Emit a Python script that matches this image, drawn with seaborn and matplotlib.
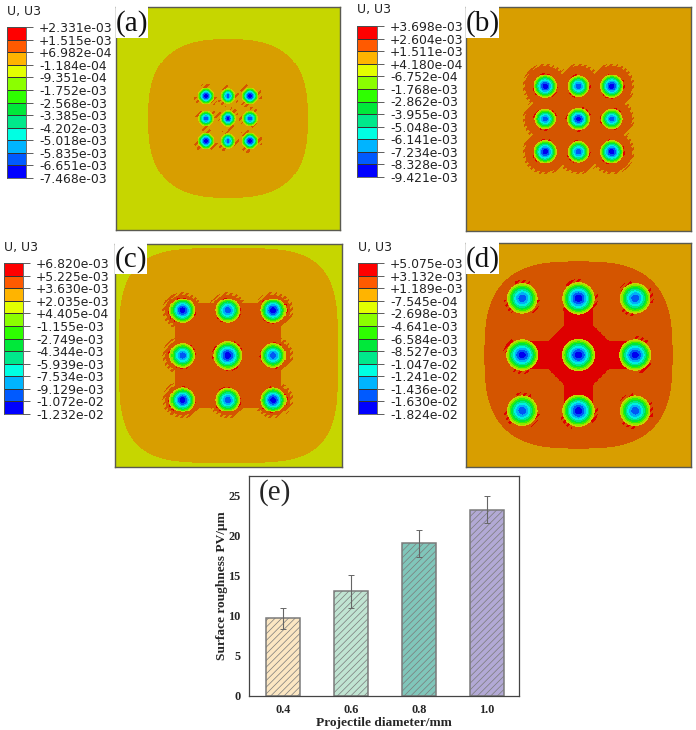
"""
plot.py

Four U3 displacement contour maps (a-d) plus the surface roughness bars (e).
"""

import numpy as np
import pandas as pd
import matplotlib.pyplot as plt
import seaborn as sns
from matplotlib.colors import ListedColormap
from matplotlib.patches import Rectangle

W, H = 696, 730
GRID = 225

# legend cells, top to bottom, and the slightly darker lit version used in the maps
LEGEND_COLORS = ["#FF0000", "#FF5A00", "#FFB400", "#E3FF00", "#8BFF00", "#2EFF00",
                 "#00E83A", "#00E88B", "#00FFE3", "#00B4FF", "#005AFF", "#0000FF"]
FIELD_COLORS = ["#DE0000", "#D45500", "#D89E00", "#C6D600", "#8CE800", "#35F000",
                "#00E43C", "#00E68C", "#00F0E0", "#00B0F5", "#0058F5", "#0000F0"]

LABELS_A = ["+2.331e-03", "+1.515e-03", "+6.982e-04", "-1.184e-04", "-9.351e-04",
            "-1.752e-03", "-2.568e-03", "-3.385e-03", "-4.202e-03", "-5.018e-03",
            "-5.835e-03", "-6.651e-03", "-7.468e-03"]
LABELS_B = ["+3.698e-03", "+2.604e-03", "+1.511e-03", "+4.180e-04", "-6.752e-04",
            "-1.768e-03", "-2.862e-03", "-3.955e-03", "-5.048e-03", "-6.141e-03",
            "-7.234e-03", "-8.328e-03", "-9.421e-03"]
LABELS_C = ["+6.820e-03", "+5.225e-03", "+3.630e-03", "+2.035e-03", "+4.405e-04",
            "-1.155e-03", "-2.749e-03", "-4.344e-03", "-5.939e-03", "-7.534e-03",
            "-9.129e-03", "-1.072e-02", "-1.232e-02"]
LABELS_D = ["+5.075e-03", "+3.132e-03", "+1.189e-03", "-7.545e-04", "-2.698e-03",
            "-4.641e-03", "-6.584e-03", "-8.527e-03", "-1.047e-02", "-1.241e-02",
            "-1.436e-02", "-1.630e-02", "-1.824e-02"]

# pit centres (fraction of the square), radii and deepest band, row by row
PITS_X_A = [0.40, 0.50, 0.60]
PITS_Y_A = [0.40, 0.50, 0.60]
PIT_R_A = [0.037, 0.035, 0.037, 0.035, 0.037, 0.035, 0.037, 0.035, 0.037]
PIT_CORE_A = [11, 10, 11, 10, 11, 10, 11, 10, 11]

PITS_X_B = [0.352, 0.50, 0.648]
PITS_Y_B = [0.352, 0.50, 0.648]
PIT_R_B = [0.052, 0.048, 0.052, 0.048, 0.052, 0.048, 0.052, 0.048, 0.052]
PIT_CORE_B = [11, 10, 11, 10, 11, 10, 11, 10, 11]

PITS_X_C = [0.296, 0.497, 0.698]
PITS_Y_C = [0.299, 0.50, 0.698]
PIT_R_C = [0.056, 0.055, 0.056, 0.055, 0.064, 0.055, 0.056, 0.055, 0.056]
PIT_CORE_C = [11, 10, 11, 10, 11, 10, 11, 10, 11]

PITS_X_D = [0.25, 0.50, 0.752]
PITS_Y_D = [0.246, 0.50, 0.75]
PIT_R_D = [0.068, 0.072, 0.068, 0.072, 0.074, 0.072, 0.068, 0.072, 0.068]
PIT_CORE_D = [10, 11, 10, 11, 11, 11, 10, 11, 10]

# panel e
DIAMETERS = ["0.4", "0.6", "0.8", "1.0"]
ROUGHNESS = [9.7, 13.1, 19.1, 23.3]
ROUGHNESS_ERR = [1.3, 2.05, 1.7, 1.65]
BAR_COLORS = ["#FBE6C2", "#C0E4D2", "#80C6BA", "#B2A9D5"]


def px_axes(fig, left, top, right, bottom):
    return fig.add_axes([left / W, 1 - bottom / H, (right - left) / W, (bottom - top) / H])


def grid():
    c = (np.arange(GRID) + 0.5) / GRID
    return np.meshgrid(c, c)


def squircle(X, Y, half, p):
    return np.abs((X - 0.5) / half) ** p + np.abs((Y - 0.5) / half) ** p < 1


def near_pits(X, Y, xs, ys, r):
    mask = np.zeros_like(X, dtype=bool)
    for y0 in ys:
        for x0 in xs:
            mask |= np.hypot(X - x0, Y - y0) < r
    return mask


def stripes(X, Y, width=0.028):
    return np.sin(2 * np.pi * (X + Y) / width) > 0.1


def add_pits(field, X, Y, xs, ys, radii, cores, fringe=1.3, rim=1):
    k = 0
    for y0 in ys:
        for x0 in xs:
            r = np.hypot(X - x0, Y - y0) / radii[k]
            theta = np.arctan2(Y - y0, X - x0)
            # torn material around the rim
            torn = (r >= 1) & (r < fringe) & stripes(X, Y, 0.03) & (np.sin(3 * theta + k) > 0.25)
            field[torn] = rim
            inside = r < 1
            field[inside] = np.floor(3 + (cores[k] - 3 + 0.99) * (1 - r[inside] ** 1.5))
            k += 1
    return field


def field_a():
    X, Y = grid()
    field = np.full(X.shape, 3.0)
    field[squircle(X, Y, 0.357, 2.7)] = 2
    return add_pits(field, X, Y, PITS_X_A, PITS_Y_A, PIT_R_A, PIT_CORE_A, fringe=1.45)


def field_b():
    X, Y = grid()
    field = np.full(X.shape, 2.0)
    square = (np.abs(X - 0.5) < 0.2) & (np.abs(Y - 0.5) < 0.2)
    inner = square | near_pits(X, Y, PITS_X_B, PITS_Y_B, 0.09)
    rough = near_pits(X, Y, PITS_X_B, PITS_Y_B, 0.1) & stripes(X, Y)
    field[inner | rough] = 1
    return add_pits(field, X, Y, PITS_X_B, PITS_Y_B, PIT_R_B, PIT_CORE_B, fringe=1.12, rim=0)


def field_c():
    X, Y = grid()
    field = np.full(X.shape, 3.0)
    field[squircle(X, Y, 0.482, 3.8)] = 2
    square = (np.abs(X - 0.497) < 0.235) & (np.abs(Y - 0.5) < 0.235)
    inner = square | near_pits(X, Y, PITS_X_C, PITS_Y_C, 0.072)
    rough = near_pits(X, Y, PITS_X_C, PITS_Y_C, 0.085) & stripes(X, Y)
    field[inner | rough] = 1
    return add_pits(field, X, Y, PITS_X_C, PITS_Y_C, PIT_R_C, PIT_CORE_C, fringe=1.1, rim=0)


def field_d():
    X, Y = grid()
    field = np.full(X.shape, 2.0)
    field[squircle(X, Y, 0.418, 2.9)] = 1
    dx, dy = np.abs(X - 0.5), np.abs(Y - 0.5)
    cross = ((dx < 0.065) & (dy < 0.25)) | ((dy < 0.065) & (dx < 0.25)) | (dx + dy < 0.2)
    field[cross] = 0
    return add_pits(field, X, Y, PITS_X_D, PITS_Y_D, PIT_R_D, PIT_CORE_D, fringe=1.2, rim=0)


def draw_contour(fig, field, labels, box, bar, name, note):
    cmap = ListedColormap(FIELD_COLORS)
    ax = px_axes(fig, *box)
    sns.heatmap(field, cmap=cmap, vmin=-0.5, vmax=11.5, cbar=False,
                xticklabels=False, yticklabels=False, ax=ax)
    for s in ax.spines.values():
        s.set_visible(True)
        s.set_color("#5A5A50")
        s.set_linewidth(1.0)

    # legend strip, same cells as the band index
    cax = px_axes(fig, *bar)
    cells = np.arange(12).reshape(-1, 1)
    sns.heatmap(cells, cmap=ListedColormap(LEGEND_COLORS), vmin=-0.5, vmax=11.5, cbar=False,
                linewidths=0.5, linecolor="#333333", xticklabels=False, ax=cax)
    cax.set_yticks(np.arange(13))
    cax.set_yticklabels(labels, rotation=0, fontsize=8.9, color="#222222", family="DejaVu Sans")
    cax.tick_params(axis="y", left=False, right=True, labelleft=False, labelright=True,
                    length=5, width=0.6, color="#444444", pad=4.3)
    for s in cax.spines.values():
        s.set_visible(True)
        s.set_color("#555555")
        s.set_linewidth(0.6)
    fig.text(bar[0] / W, 1 - (bar[1] - 16) / H, "U, U3", fontsize=8.9, color="#222222",
             va="center", ha="left")

    # white tag with the panel letter
    fig.add_artist(Rectangle((note[0] / W, 1 - note[2] / H), (note[1] - note[0]) / W,
                             (note[2] - note[3]) / H, transform=fig.transFigure,
                             facecolor="white", edgecolor="none", zorder=5))
    fig.text((note[0] + note[1]) / 2 / W, 1 - ((note[3] + note[2]) / 2 + 5) / H, name, fontsize=21,
             family="Liberation Serif", color="#111111", ha="center", va="center", zorder=6)


def draw_bars(fig):
    ax = px_axes(fig, 249, 476, 519, 696)
    df = pd.DataFrame({"diameter": DIAMETERS, "pv": ROUGHNESS})
    sns.barplot(data=df, x="diameter", y="pv", hue="diameter", palette=BAR_COLORS, legend=False,
                width=0.5, errorbar=None, saturation=1, ax=ax)
    for patch in ax.patches:
        patch.set_hatch("/////")
        patch.set_edgecolor("#7A7A7A")
        patch.set_linewidth(1.1)
    ax.errorbar(np.arange(len(ROUGHNESS)), ROUGHNESS, yerr=ROUGHNESS_ERR, fmt="none",
                ecolor="#666666", elinewidth=0.8, capsize=2.2, capthick=0.7)
    ax.set_xlim(-0.5, 3.47)
    ax.set_ylim(0, 27.5)
    ax.set_yticks([0, 5, 10, 15, 20, 25])
    ax.set_yticks([2.5, 7.5, 12.5, 17.5, 22.5, 27.5], minor=True)
    ax.set_xticks([0.5, 1.5, 2.5], minor=True)
    ax.tick_params(axis="both", which="major", length=3.5, width=0.8, labelsize=8.8, pad=2.5)
    ax.tick_params(axis="both", which="minor", length=2, width=0.7)
    for lab in ax.get_xticklabels() + ax.get_yticklabels():
        lab.set_fontweight("bold")
    ax.set_xlabel("Projectile diameter/mm", fontsize=9.6, fontweight="bold", labelpad=0.5)
    ax.set_ylabel("Surface roughness PV/μm", fontsize=9.6, fontweight="bold", labelpad=0)
    ax.text(0.035, 0.985, "(e)", transform=ax.transAxes, fontsize=21, fontweight="normal",
            ha="left", va="top")
    for s in ax.spines.values():
        s.set_visible(True)
        s.set_linewidth(0.9)
        s.set_color("#444444")


def main():
    sns.set_theme(style="white")
    plt.rcParams["font.family"] = ["DejaVu Sans"]
    plt.rcParams["font.serif"] = ["Liberation Serif"]
    plt.rcParams["hatch.linewidth"] = 0.5

    fig = plt.figure(figsize=(W / 100, H / 100), dpi=100, facecolor="white")

    draw_contour(fig, field_a(), LABELS_A, (116, 7, 340, 230), (7, 27, 26, 178), "(a)", (116, 148, 38, 0))
    draw_contour(fig, field_b(), LABELS_B, (466, 7, 691, 231), (357, 26, 377, 177), "(b)", (466, 499, 38, 0))
    draw_contour(fig, field_c(), LABELS_C, (115, 244, 342, 467), (4, 263, 23, 414), "(c)", (115, 147, 274, 235))
    draw_contour(fig, field_d(), LABELS_D, (466, 243, 691, 467), (358, 263, 377, 414), "(d)", (466, 499, 274, 235))

    plt.rcParams["font.family"] = ["Liberation Serif"]
    draw_bars(fig)

    fig.savefig("out.png", dpi=100)


if __name__ == "__main__":
    main()
